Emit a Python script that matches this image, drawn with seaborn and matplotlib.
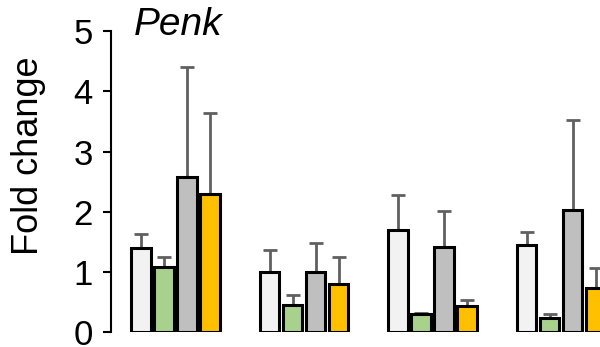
import matplotlib
matplotlib.use("Agg")
import matplotlib.pyplot as plt
import numpy as np
import pandas as pd
import seaborn as sns

# Values (4 groups x 4 conditions)
groups = ["G1", "G2", "G3", "G4"]
conditions = ["c1", "c2", "c3", "c4"]
means = [
    [1.40, 1.08, 2.58, 2.29],
    [1.00, 0.45, 1.00, 0.80],
    [1.69, 0.30, 1.41, 0.43],
    [1.45, 0.23, 2.03, 0.73],
]
upper = [
    [1.63, 1.25, 4.40, 3.64],
    [1.36, 0.61, 1.48, 1.24],
    [2.28, 0.32, 2.01, 0.53],
    [1.66, 0.30, 3.52, 1.06],
]
colors = ["#f2f2f2", "#a9d18e", "#bfbfbf", "#ffc000"]

rows = []
for gi, g in enumerate(groups):
    for ci, c in enumerate(conditions):
        rows.append({"group": g, "cond": c, "mean": means[gi][ci]})
df = pd.DataFrame(rows)

sns.set_style("ticks")
plt.rcParams["font.family"] = ["Liberation Sans", "DejaVu Sans"]
plt.rcParams["text.color"] = "black"
plt.rcParams["ytick.color"] = "black"
plt.rcParams["ytick.labelcolor"] = "black"

fig = plt.figure(figsize=(6, 3.47), dpi=100)
ax = fig.add_axes([0.185, 0.0432, 0.815, 0.867])

sns.barplot(
    data=df, x="group", y="mean", hue="cond", order=groups, hue_order=conditions,
    palette=colors, saturation=1, width=0.716, gap=0.15, edgecolor="black", linewidth=2.2,
    errorbar=None, legend=False, ax=ax, zorder=3,
)

# upper-only error bars at the bar centres
xs, ys, es = [], [], []
for ci, c in enumerate(conditions):
    for gi, g in enumerate(groups):
        bar = ax.patches[ci * len(groups) + gi]
        xs.append(bar.get_x() + bar.get_width() / 2)
        ys.append(means[gi][ci])
        es.append(upper[gi][ci] - means[gi][ci])
ax.errorbar(xs, ys, yerr=[np.zeros(len(es)), es], fmt="none", ecolor="#606060",
            elinewidth=2, capsize=5, capthick=2, zorder=2)

ax.set_ylim(0, 5)
ax.set_xlim(-0.502, 3.303)
ax.set_yticks([0, 1, 2, 3, 4, 5])
ax.tick_params(axis="y", labelsize=25, length=6, width=1.5, pad=7, colors="black")
ax.tick_params(axis="x", bottom=False, labelbottom=False)
ax.set_xlabel("")
ax.set_ylabel("")
sns.despine(ax=ax, bottom=True, right=True, top=True)
ax.spines["left"].set_linewidth(1.5)
ax.spines["left"].set_color("black")

ax.text(-0.149, 0.586, "Fold change", transform=ax.transAxes, fontsize=26, rotation=90,
        rotation_mode="anchor", ha="center", va="baseline")
ax.text(0.047, 0.987, "Penk", transform=ax.transAxes, fontsize=28, style="italic",
        ha="left", va="baseline")

fig.savefig("out.png", dpi=100)
